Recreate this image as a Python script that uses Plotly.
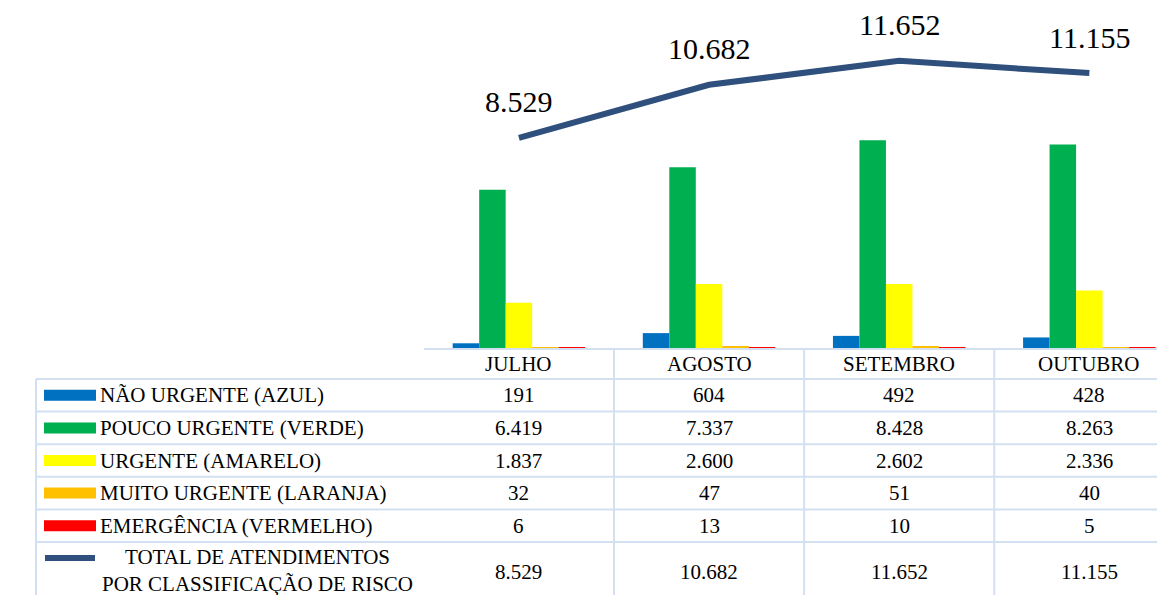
import plotly.graph_objects as go

# data
months = ["JULHO", "AGOSTO", "SETEMBRO", "OUTUBRO"]
nao_urgente = [191, 604, 492, 428]
pouco_urgente = [6419, 7337, 8428, 8263]
urgente = [1837, 2600, 2602, 2336]
muito_urgente = [32, 47, 51, 40]
emergencia = [6, 13, 10, 5]
total = [8529, 10682, 11652, 11155]

series_names = [
    "NÃO URGENTE (AZUL)",
    "POUCO URGENTE (VERDE)",
    "URGENTE (AMARELO)",
    "MUITO URGENTE (LARANJA)",
    "EMERGÊNCIA (VERMELHO)",
]
series_values = [nao_urgente, pouco_urgente, urgente, muito_urgente, emergencia]
series_colors = ["#0070C0", "#00B050", "#FFFF00", "#FFC000", "#FF0000"]
total_name = "TOTAL DE ATENDIMENTOS<br>POR CLASSIFICAÇÃO DE RISCO"
line_color = "#2F4F7C"

FONT = "Liberation Serif"
GRID = "#D3E0F1"

# page puts the figure 8px in from the corner
OX, OY = 8, 8
W, H = 1165, 595
BASE = 348          # baseline of plot, in screenshot pixels
TOP = 3
LEFT = 425
L = LEFT - OX
PH = BASE - OY
B = H - (BASE - OY)
PW = W - L


def px(x):
    return (x - OX - L) / PW


def py(y):
    return (BASE - y) / PH


def fmt(v):
    return f"{v:,}".replace(",", ".")


fig = go.Figure()
for name, vals, col in zip(series_names, series_values, series_colors):
    fig.add_trace(go.Bar(x=list(range(len(months))), y=vals, name=name,
                         marker=dict(color=col, line=dict(width=0)),
                         hoverinfo="skip"))
fig.add_trace(go.Scatter(x=list(range(len(months))), y=total, mode="lines",
                         line=dict(color=line_color, width=6),
                         name="TOTAL", hoverinfo="skip"))

annotations = []
shapes = []

# labels on the line
for i, v in enumerate(total):
    annotations.append(dict(x=i, y=v, xref="x", yref="y", text=fmt(v),
                            showarrow=False, yanchor="middle", yshift=36,
                            font=dict(family=FONT, size=30, color="#000")))

# data table below the plot
row_h = 32.6
head_top, head_bot = 349, 379
row_tops = [head_bot + row_h * i for i in range(6)]
bottom = H + 10

# outer chart border
shapes.append(dict(type="line", xref="paper", yref="paper",
                   x0=px(3), x1=px(3), y0=py(0), y1=py(bottom),
                   line=dict(color=GRID, width=1.5)))
# header top
shapes.append(dict(type="line", xref="paper", yref="paper",
                   x0=px(424), x1=1.02, y0=py(head_top), y1=py(head_top),
                   line=dict(color=GRID, width=2)))
for yt in row_tops:
    shapes.append(dict(type="line", xref="paper", yref="paper",
                       x0=px(36), x1=1.02, y0=py(yt), y1=py(yt),
                       line=dict(color=GRID, width=2)))
shapes.append(dict(type="line", xref="paper", yref="paper",
                   x0=px(36), x1=px(36), y0=py(head_bot), y1=py(bottom),
                   line=dict(color=GRID, width=2)))
for i in range(len(months)):
    shapes.append(dict(type="line", xref="x", yref="paper",
                       x0=i - 0.5, x1=i - 0.5, y0=py(head_top), y1=py(bottom),
                       line=dict(color=GRID, width=2)))

# month header
for i, m in enumerate(months):
    annotations.append(dict(x=i, y=py((head_top + head_bot) / 2), xref="x", yref="paper",
                            text=m, showarrow=False, yanchor="middle",
                            font=dict(family=FONT, size=21, color="#000")))

# series rows
for r, (name, vals, col) in enumerate(zip(series_names, series_values, series_colors)):
    yc = row_tops[r] + row_h / 2
    shapes.append(dict(type="rect", xref="paper", yref="paper",
                       x0=px(44), x1=px(96), y0=py(yc - 5.5), y1=py(yc + 5.5),
                       fillcolor=col, line=dict(width=0)))
    annotations.append(dict(x=px(98), y=py(yc), xref="paper", yref="paper",
                            text=name, showarrow=False, xanchor="left", yanchor="middle",
                            font=dict(family=FONT, size=21, color="#000")))
    for i, v in enumerate(vals):
        annotations.append(dict(x=i, y=py(yc), xref="x", yref="paper",
                                text=fmt(v), showarrow=False, yanchor="middle",
                                font=dict(family=FONT, size=21, color="#000")))

# total row
shapes.append(dict(type="line", xref="paper", yref="paper",
                   x0=px(45), x1=px(95), y0=py(558), y1=py(558),
                   line=dict(color=line_color, width=6)))
annotations.append(dict(x=px(257), y=py(570), xref="paper", yref="paper",
                        text=total_name, showarrow=False, xanchor="center", yanchor="middle",
                        align="center",
                        font=dict(family=FONT, size=21, color="#000")))
for i, v in enumerate(total):
    annotations.append(dict(x=i, y=py(572), xref="x", yref="paper",
                            text=fmt(v), showarrow=False, yanchor="middle",
                            font=dict(family=FONT, size=21, color="#000")))

fig.update_layout(
    width=W, height=H,
    margin=dict(l=L, r=0, t=0, b=B, pad=0),
    paper_bgcolor="white", plot_bgcolor="white",
    font=dict(family=FONT),
    barmode="group", bargap=0.303, bargroupgap=0,
    showlegend=False,
    xaxis=dict(range=[-0.494, 3.44], showticklabels=False, showgrid=False,
               zeroline=False, showline=False, ticks=""),
    yaxis=dict(range=[0, 14000 * PH / (BASE - TOP)], showticklabels=False, showgrid=False,
               zeroline=False, showline=False, ticks=""),
    shapes=shapes,
    annotations=annotations,
)

fig.write_html("out.html")
